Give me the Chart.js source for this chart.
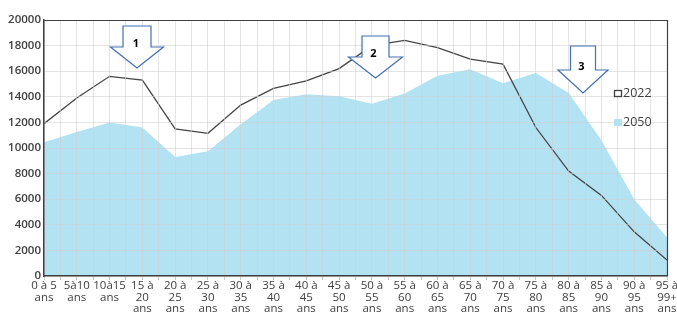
<!DOCTYPE html>
<html>
<head>
<meta charset="utf-8">
<script src="https://cdn.jsdelivr.net/npm/chart.js@4/dist/chart.umd.min.js"></script>
<style>
html,body{margin:0;padding:0;background:#fff;}
#wrap{position:relative;width:677px;height:314px;}
</style>
</head>
<body>
<div id="wrap"><canvas id="c" width="677" height="314"></canvas></div>
<script>
const ageLabels = [
  ['0 à 5','ans'], ['5à10','ans'], ['10à15','ans'],
  ['15 à','20','ans'], ['20 à','25','ans'], ['25 à','30','ans'], ['30 à','35','ans'],
  ['35 à','40','ans'], ['40 à','45','ans'], ['45 à','50','ans'], ['50 à','55','ans'],
  ['55 à','60','ans'], ['60 à','65','ans'], ['65 à','70','ans'], ['70 à','75','ans'],
  ['75 à','80','ans'], ['80 à','85','ans'], ['85 à','90','ans'], ['90 à','95','ans'],
  ['95 à','99+','ans']
];
const seriesNames = ['2022', '2050'];
const values2022 = [11900, 13900, 15600, 15300, 11500, 11150, 13350, 14650, 15250, 16200,
                    18000, 18400, 17850, 16950, 16550, 11600, 8200, 6300, 3450, 1250];
const values2050 = [10450, 11250, 12000, 11600, 9300, 9750, 11850, 13750, 14200, 14050,
                    13450, 14250, 15650, 16150, 15050, 15850, 14300, 10600, 6000, 3000];
const yTicks = [0, 2000, 4000, 6000, 8000, 10000, 12000, 14000, 16000, 18000, 20000];
const arrowLabels = ['1', '2', '3'];

const TXT = '#404040';
const BLUE = '#b3e2f3';
Chart.defaults.font.family = "'Open Sans', 'DejaVu Sans', sans-serif";
Chart.defaults.color = TXT;

function pts(arr){ return arr.map((v,i)=>({x:i, y:v})); }

const decor = {
  id: 'decor',
  afterDraw(chart){
    const ctx = chart.ctx;
    const xs = chart.scales.x, ys = chart.scales.y;
    const L = xs.getPixelForValue(0), R = Math.round(xs.getPixelForValue(19));
    const T = Math.round(ys.getPixelForValue(20000)), B = ys.getPixelForValue(0);
    ctx.save();
    // top and right frame
    ctx.strokeStyle = TXT; ctx.lineWidth = 1.2;
    ctx.beginPath();
    ctx.moveTo(L, T + 0.5); ctx.lineTo(R + 0.5, T + 0.5);
    ctx.lineTo(R + 0.5, B);
    ctx.stroke();

    // arrows
    const arrows = [
      {cx:137, top:26, rh:14, rb:47, wh:26.5, tip:68, lx:136},
      {cx:375.5, top:36, rh:13.5, rb:57, wh:27, tip:78, lx:373.5},
      {cx:583, top:46, rh:12.5, rb:70, wh:25, tip:93, lx:581.5}
    ];
    arrows.forEach((ar, k) => {
      ctx.beginPath();
      ctx.moveTo(ar.cx - ar.rh, ar.top);
      ctx.lineTo(ar.cx + ar.rh, ar.top);
      ctx.lineTo(ar.cx + ar.rh, ar.rb);
      ctx.lineTo(ar.cx + ar.wh, ar.rb);
      ctx.lineTo(ar.cx, ar.tip);
      ctx.lineTo(ar.cx - ar.wh, ar.rb);
      ctx.lineTo(ar.cx - ar.rh, ar.rb);
      ctx.closePath();
      ctx.fillStyle = '#ffffff';
      ctx.fill();
      ctx.strokeStyle = '#4470b0';
      ctx.lineWidth = 1.2;
      ctx.stroke();
      ctx.fillStyle = '#000';
      ctx.font = "bold 11px 'Open Sans', sans-serif";
      ctx.textAlign = 'center';
      ctx.textBaseline = 'middle';
      ctx.fillText(arrowLabels[k], ar.lx, ar.rb - 3);
    });

    // legend
    ctx.font = "12.5px 'Open Sans', sans-serif";
    ctx.textAlign = 'left';
    ctx.textBaseline = 'middle';
    ctx.fillStyle = '#fff';
    ctx.fillRect(614.5, 90.5, 7, 6);
    ctx.strokeStyle = TXT; ctx.lineWidth = 1.3;
    ctx.strokeRect(614.5, 90.5, 7, 6);
    ctx.fillStyle = TXT;
    ctx.fillText(seriesNames[0], 623, 93.5);
    ctx.fillStyle = BLUE;
    ctx.fillRect(614, 119, 8, 7);
    ctx.fillStyle = TXT;
    ctx.fillText(seriesNames[1], 623, 122.5);
    ctx.restore();
  }
};

new Chart(document.getElementById('c'), {
  type: 'line',
  data: {
    datasets: [
      { label: seriesNames[0], data: pts(values2022), borderColor: '#454545', borderWidth: 1.3, pointRadius: 0, fill: false, tension: 0, order: 0 },
      { label: seriesNames[1], data: pts(values2050), borderWidth: 0, borderColor: BLUE, backgroundColor: BLUE, pointRadius: 0, fill: 'origin', tension: 0, order: 1 }
    ]
  },
  options: {
    responsive: false,
    animation: false,
    events: [],
    layout: { padding: { top: 20, right: 10, left: 0, bottom: 0 } },
    plugins: { legend: { display: false }, tooltip: { enabled: false } },
    scales: {
      x: {
        type: 'linear',
        min: 0, max: 19,
        afterBuildTicks(s){ s.ticks = Array.from({length: 39}, (_, k) => ({value: k / 2})); },
        afterFit(s){ s.height = 38; s.paddingLeft = 0; s.paddingRight = 0; },
        grid: { color: 'rgba(205,205,205,0.55)', lineWidth: 1, z: 1, drawTicks: true, tickLength: 4, tickColor: '#c8c8c8' },
        border: { color: TXT, width: 1.5, z: 2 },
        ticks: {
          autoSkip: false, maxRotation: 0, minRotation: 0, padding: 0,
          font: { size: 11.5, lineHeight: 1.0 },
          color: TXT,
          callback(v){ return Number.isInteger(v) ? ageLabels[v] : ''; }
        }
      },
      y: {
        min: 0, max: 20000,
        afterBuildTicks(s){ s.ticks = yTicks.map(v => ({value: v})); },
        afterFit(s){ s.width = 44; },
        grid: { color: 'rgba(205,205,205,0.55)', lineWidth: 1, z: 1, drawTicks: false },
        border: { color: TXT, width: 1.5, z: 2 },
        ticks: {
          padding: 3,
          font: { size: 11.5, weight: '600' },
          color: TXT,
          callback(v){ return String(v); }
        }
      }
    }
  },
  plugins: [decor]
});
</script>
</body>
</html>
